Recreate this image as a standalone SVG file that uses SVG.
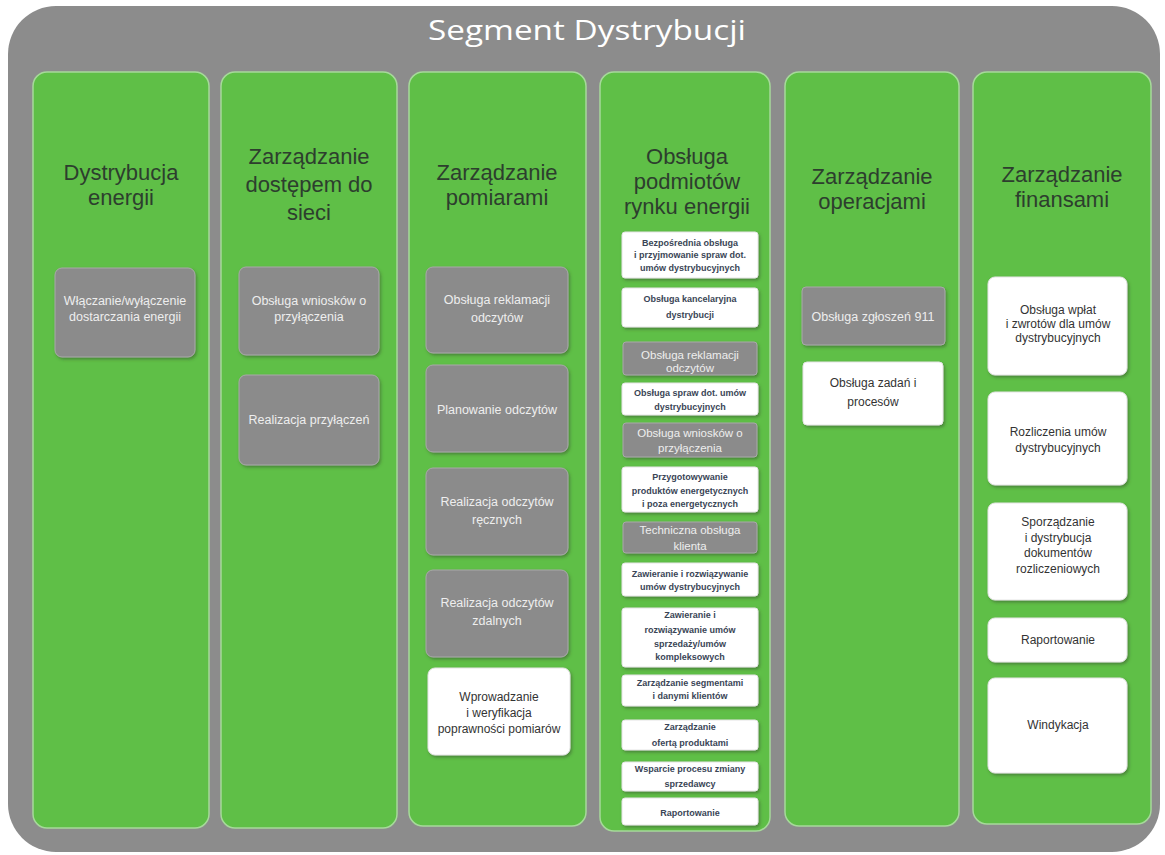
<svg xmlns="http://www.w3.org/2000/svg" width="1165" height="855" viewBox="0 0 1165 855">
<defs>
<filter id="sh" x="-10%" y="-10%" width="130%" height="130%">
<feDropShadow dx="1.5" dy="2" stdDeviation="1.5" flood-color="#3a5a30" flood-opacity="0.55"/>
</filter>
<style>
.col{fill:#5fbf47;stroke:#a6d99a;stroke-width:1.5}
.gbox{fill:#8b8b8b;stroke:#a9a9a9;stroke-width:1;filter:url(#sh)}
.wbox{fill:#ffffff;stroke:#e4e4e4;stroke-width:1;filter:url(#sh)}
.hdr{font-family:"Liberation Sans",Arial,sans-serif;font-size:22px;fill:#2d3e2e;text-anchor:middle}
.gt{font-family:"Liberation Sans",Arial,sans-serif;font-size:12.5px;fill:#eeeeee;text-anchor:middle}
.wt{font-family:"Liberation Sans",Arial,sans-serif;font-size:12px;fill:#333333;text-anchor:middle}
.st{font-family:"Liberation Sans",Arial,sans-serif;font-size:9px;font-weight:bold;fill:#3a4556;text-anchor:middle}
.sg{font-family:"Liberation Sans",Arial,sans-serif;font-size:11.5px;fill:#eeeeee;text-anchor:middle}
</style>
</defs>
<rect x="0" y="0" width="1165" height="855" fill="#ffffff"/>
<rect id="frame" x="8" y="6" width="1152" height="846" rx="48" fill="#8c8c8c"/>
<text id="title" x="587" y="40" font-family="'Open Sans','Noto Sans',sans-serif" font-size="28" fill="#ffffff" text-anchor="middle" textLength="318" lengthAdjust="spacingAndGlyphs">Segment Dystrybucji</text>

<g id="col1">
<rect class="col" x="33" y="72" width="176" height="756" rx="14"/>
<text class="hdr" x="121" y="180">Dystrybucja</text>
<text class="hdr" x="121" y="205">energii</text>
<g id="c1b1">
<rect class="gbox" x="55" y="268" width="140" height="89" rx="7"/>
<text class="gt" x="125" y="305">Włączanie/wyłączenie</text>
<text class="gt" x="125" y="321">dostarczania energii</text>
</g>
</g>

<g id="col2">
<rect class="col" x="221" y="72" width="176" height="756" rx="14"/>
<text class="hdr" x="309" y="164">Zarządzanie</text>
<text class="hdr" x="309" y="192">dostępem do</text>
<text class="hdr" x="309" y="220">sieci</text>
<g id="c2b1">
<rect class="gbox" x="239" y="267" width="140" height="88" rx="7"/>
<text class="gt" x="309" y="305">Obsługa wniosków o</text>
<text class="gt" x="309" y="321">przyłączenia</text>
</g>
<g id="c2b2">
<rect class="gbox" x="239" y="375" width="140" height="90" rx="7"/>
<text class="gt" x="309" y="424">Realizacja przyłączeń</text>
</g>
</g>

<g id="col3">
<rect class="col" x="409" y="72" width="177" height="754" rx="14"/>
<text class="hdr" x="497" y="180">Zarządzanie</text>
<text class="hdr" x="497" y="205">pomiarami</text>
<g id="c3b1">
<rect class="gbox" x="426" y="267" width="142" height="86" rx="7"/>
<text class="gt" x="497" y="304">Obsługa reklamacji</text>
<text class="gt" x="497" y="322">odczytów</text>
</g>
<g id="c3b2">
<rect class="gbox" x="426" y="365" width="142" height="87" rx="7"/>
<text class="gt" x="497" y="414">Planowanie odczytów</text>
</g>
<g id="c3b3">
<rect class="gbox" x="426" y="468" width="142" height="87" rx="7"/>
<text class="gt" x="497" y="506">Realizacja odczytów</text>
<text class="gt" x="497" y="524">ręcznych</text>
</g>
<g id="c3b4">
<rect class="gbox" x="426" y="570" width="142" height="87" rx="7"/>
<text class="gt" x="497" y="607">Realizacja odczytów</text>
<text class="gt" x="497" y="625">zdalnych</text>
</g>
<g id="c3b5">
<rect class="wbox" x="428" y="668" width="142" height="87" rx="7"/>
<text class="wt" x="499" y="701">Wprowadzanie</text>
<text class="wt" x="499" y="717">i weryfikacja</text>
<text class="wt" x="499" y="733">poprawności pomiarów</text>
</g>
</g>

<g id="col4">
<rect class="col" x="600" y="72" width="170" height="759" rx="14"/>
<text class="hdr" x="687" y="164">Obsługa</text>
<text class="hdr" x="687" y="189">podmiotów</text>
<text class="hdr" x="687" y="214">rynku energii</text>
<g id="c4b1">
<rect class="wbox" x="622" y="232" width="136" height="46" rx="3"/>
<text class="st" x="690" y="246">Bezpośrednia obsługa</text>
<text class="st" x="690" y="258">i przyjmowanie spraw dot.</text>
<text class="st" x="690" y="271">umów dystrybucyjnych</text>
</g>
<g id="c4b2">
<rect class="wbox" x="622" y="288" width="136" height="39" rx="3"/>
<text class="st" x="690" y="302">Obsługa kancelaryjna</text>
<text class="st" x="690" y="318">dystrybucji</text>
</g>
<g id="c4b3">
<rect class="gbox" x="623" y="342" width="134" height="33" rx="3"/>
<text class="sg" x="690" y="359">Obsługa reklamacji</text>
<text class="sg" x="690" y="372">odczytów</text>
</g>
<g id="c4b4">
<rect class="wbox" x="622" y="383" width="136" height="32" rx="3"/>
<text class="st" x="690" y="396">Obsługa spraw dot. umów</text>
<text class="st" x="690" y="410">dystrybucyjnych</text>
</g>
<g id="c4b5">
<rect class="gbox" x="623" y="423" width="134" height="34" rx="3"/>
<text class="sg" x="690" y="437">Obsługa wniosków o</text>
<text class="sg" x="690" y="452">przyłączenia</text>
</g>
<g id="c4b6">
<rect class="wbox" x="622" y="467" width="136" height="45" rx="3"/>
<text class="st" x="690" y="480" fill="#2c4466">Przygotowywanie</text>
<text class="st" x="690" y="494" fill="#2c4466">produktów energetycznych</text>
<text class="st" x="690" y="507" fill="#2c4466">i poza energetycznych</text>
</g>
<g id="c4b7">
<rect class="gbox" x="623" y="522" width="134" height="31" rx="3"/>
<text class="sg" x="690" y="534">Techniczna obsługa</text>
<text class="sg" x="690" y="550">klienta</text>
</g>
<g id="c4b8">
<rect class="wbox" x="622" y="563" width="136" height="33" rx="3"/>
<text class="st" x="690" y="577">Zawieranie i rozwiązywanie</text>
<text class="st" x="690" y="590">umów dystrybucyjnych</text>
</g>
<g id="c4b9">
<rect class="wbox" x="622" y="608" width="136" height="59" rx="3"/>
<text class="st" x="690" y="618">Zawieranie i</text>
<text class="st" x="690" y="633">rozwiązywanie umów</text>
<text class="st" x="690" y="647">sprzedaży/umów</text>
<text class="st" x="690" y="660">kompleksowych</text>
</g>
<g id="c4b10">
<rect class="wbox" x="622" y="675" width="136" height="31" rx="3"/>
<text class="st" x="690" y="686">Zarządzanie segmentami</text>
<text class="st" x="690" y="699">i danymi klientów</text>
</g>
<g id="c4b11">
<rect class="wbox" x="622" y="720" width="136" height="30" rx="3"/>
<text class="st" x="690" y="730">Zarządzanie</text>
<text class="st" x="690" y="746">ofertą produktami</text>
</g>
<g id="c4b12">
<rect class="wbox" x="622" y="762" width="136" height="29" rx="3"/>
<text class="st" x="690" y="772">Wsparcie procesu zmiany</text>
<text class="st" x="690" y="787">sprzedawcy</text>
</g>
<g id="c4b13">
<rect class="wbox" x="622" y="798" width="136" height="27" rx="3"/>
<text class="st" x="690" y="816">Raportowanie</text>
</g>
</g>

<g id="col5">
<rect class="col" x="785" y="72" width="174" height="754" rx="14"/>
<text class="hdr" x="872" y="184">Zarządzanie</text>
<text class="hdr" x="872" y="209">operacjami</text>
<g id="c5b1">
<rect class="gbox" x="802" y="287" width="143" height="58" rx="4"/>
<text class="gt" x="873" y="321">Obsługa zgłoszeń 911</text>
</g>
<g id="c5b2">
<rect class="wbox" x="803" y="362" width="140" height="63" rx="4"/>
<text class="wt" x="873" y="387">Obsługa zadań i</text>
<text class="wt" x="873" y="406">procesów</text>
</g>
</g>

<g id="col6">
<rect class="col" x="973" y="72" width="178" height="752" rx="14"/>
<text class="hdr" x="1062" y="182">Zarządzanie</text>
<text class="hdr" x="1062" y="207">finansami</text>
<g id="c6b1">
<rect class="wbox" x="988" y="277" width="139" height="98" rx="7"/>
<text class="wt" x="1058" y="314">Obsługa wpłat</text>
<text class="wt" x="1058" y="328">i zwrotów dla umów</text>
<text class="wt" x="1058" y="342">dystrybucyjnych</text>
</g>
<g id="c6b2">
<rect class="wbox" x="988" y="392" width="139" height="93" rx="7"/>
<text class="wt" x="1058" y="436">Rozliczenia umów</text>
<text class="wt" x="1058" y="452">dystrybucyjnych</text>
</g>
<g id="c6b3">
<rect class="wbox" x="988" y="503" width="139" height="97" rx="7"/>
<text class="wt" x="1058" y="526">Sporządzanie</text>
<text class="wt" x="1058" y="542">i dystrybucja</text>
<text class="wt" x="1058" y="557">dokumentów</text>
<text class="wt" x="1058" y="573">rozliczeniowych</text>
</g>
<g id="c6b4">
<rect class="wbox" x="988" y="618" width="139" height="44" rx="7"/>
<text class="wt" x="1058" y="644">Raportowanie</text>
</g>
<g id="c6b5">
<rect class="wbox" x="988" y="678" width="139" height="95" rx="7"/>
<text class="wt" x="1058" y="729">Windykacja</text>
</g>
</g>

<g id="connectors"></g>
</svg>
